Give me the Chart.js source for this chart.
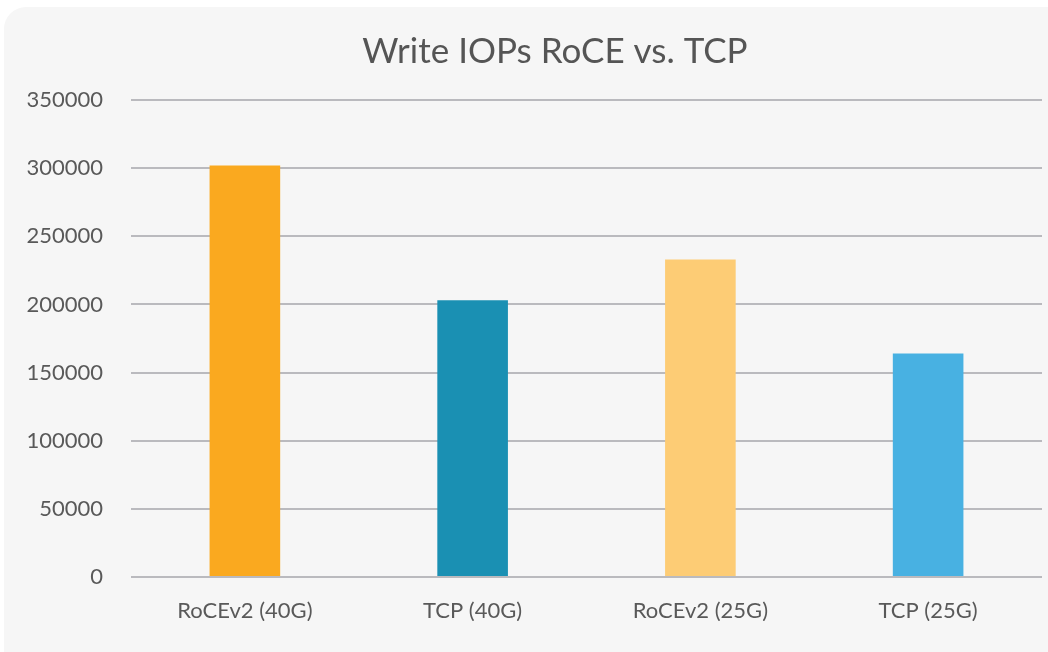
<!DOCTYPE html>
<html>
<head>
<meta charset="utf-8">
<script src="https://cdn.jsdelivr.net/npm/chart.js@4"></script>
<style>
  html, body { margin: 0; padding: 0; background: #ffffff; }
  #wrap { position: relative; width: 1048px; height: 652px; overflow: hidden; }
  #card {
    position: absolute; left: 4px; top: 7px; width: 1070px; height: 670px;
    background: #f6f6f6; border-radius: 22px;
  }
  #wrap canvas { position: absolute; left: 0; top: 0; }
</style>
</head>
<body>
<div id="wrap">
  <div id="card"></div>
  <canvas id="chart" width="1048" height="652"></canvas>
</div>
<script>
// data
const categories = ["RoCEv2 (40G)", "TCP (40G)", "RoCEv2 (25G)", "TCP (25G)"];
const writeIops = [302000, 203000, 233000, 164000];
const yTicks = [0, 50000, 100000, 150000, 200000, 250000, 300000, 350000];
const chartTitle = "Write IOPs RoCE vs. TCP";

const barColors = ["#faa91f", "#1a90b3", "#fdcc75", "#48b1e2"];
const textColor = "#595959";
const gridColor = "#bababe";

// title sits a bit left of the plot centre, so draw it by hand
const titlePlugin = {
  id: "offsetTitle",
  afterDraw(chart) {
    const ctx = chart.ctx;
    ctx.save();
    ctx.font = "35px Lato";
    ctx.fillStyle = "#555555";
    ctx.textAlign = "center";
    ctx.textBaseline = "alphabetic";
    ctx.fillText(chartTitle, 555, 63);
    ctx.restore();
  },
};

const config = {
  type: "bar",
  data: {
    labels: categories,
    datasets: [
      {
        label: "Write IOPs",
        data: writeIops,
        backgroundColor: barColors,
        borderWidth: 0,
        categoryPercentage: 1,
        barPercentage: 0.31,
      },
    ],
  },
  plugins: [titlePlugin],
  options: {
    responsive: false,
    animation: false,
    layout: {
      padding: { left: 0, right: 6, top: 100, bottom: 31 },
    },
    plugins: {
      legend: { display: false },
      tooltip: { enabled: false },
      title: { display: false },
    },
    scales: {
      x: {
        afterFit: (scale) => {
          scale.height = 44;
        },
        grid: { display: false, drawTicks: false },
        border: { display: false },
        ticks: {
          color: textColor,
          font: { family: "Lato", size: 22 },
          padding: 21,
          maxRotation: 0,
        },
      },
      y: {
        min: 0,
        max: 350000,
        afterFit: (scale) => {
          scale.width = 131;
        },
        afterBuildTicks: (scale) => {
          scale.ticks = yTicks.map((v) => ({ value: v }));
        },
        grid: { color: gridColor, lineWidth: 2, drawTicks: false },
        border: { display: false },
        ticks: {
          color: textColor,
          font: { family: "Lato", size: 22 },
          padding: 28,
          callback: (v) => String(v),
        },
      },
    },
  },
};

const iopsChart = new Chart(document.getElementById("chart"), config);
</script>
</body>
</html>
